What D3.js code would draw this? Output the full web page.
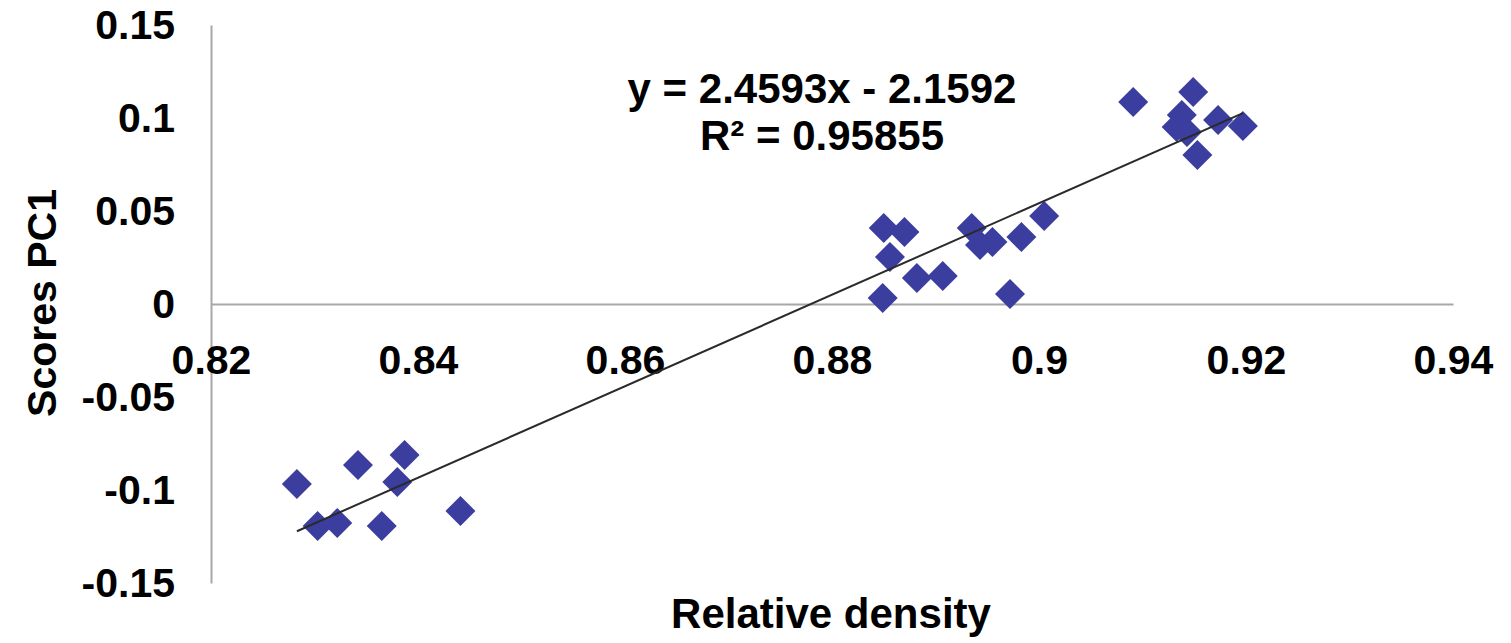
<!DOCTYPE html>
<html>
<head>
<meta charset="utf-8">
<script src="https://cdn.jsdelivr.net/npm/d3@7"></script>
<style>
  body { margin: 0; background: #fff; }
  svg text { font-family: "Liberation Sans", Arial, sans-serif; font-weight: bold; fill: #000; }
</style>
</head>
<body>
<svg width="1511" height="643"></svg>
<script>
// relative density vs scores PC1
var density = [0.8283, 0.8303, 0.8322, 0.8342, 0.8365, 0.8380, 0.8387, 0.8441,
               0.8850, 0.8870, 0.8856, 0.8849, 0.8882, 0.8907, 0.8935, 0.8943,
               0.8955, 0.8983, 0.8972, 0.9005,
               0.9091, 0.9149, 0.9138, 0.9133, 0.9143, 0.9173, 0.9197, 0.9153];
var scores = [-0.0968, -0.1194, -0.1177, -0.0866, -0.1194, -0.0957, -0.0812, -0.1113,
              0.0409, 0.0387, 0.0253, 0.0032, 0.0140, 0.0151, 0.0409, 0.0317,
              0.0333, 0.0360, 0.0054, 0.0473,
              0.1086, 0.1140, 0.1016, 0.0952, 0.0925, 0.0989, 0.0957, 0.0801];

var xTicks = [0.82, 0.84, 0.86, 0.88, 0.9, 0.92, 0.94];
var xTickLabels = ["0.82", "0.84", "0.86", "0.88", "0.9", "0.92", "0.94"];
var yTicks = [0.15, 0.1, 0.05, 0, -0.05, -0.1, -0.15];
var yTickLabels = ["0.15", "0.1", "0.05", "0", "-0.05", "-0.1", "-0.15"];

var slope = 2.4593, intercept = -2.1592; // trendline from the chart label
var eqText = ["y = 2.4593x - 2.1592", "R² = 0.95855"];

var svg = d3.select("svg");

var x = d3.scaleLinear().domain([0.82, 0.94]).range([211, 1453]);
var y = d3.scaleLinear().domain([-0.15, 0.15]).range([583, 25]);

// y axis
var yAxis = svg.append("g").attr("transform", "translate(" + x(0.82) + ",0)")
  .call(d3.axisLeft(y).tickValues(yTicks).tickSize(0).tickSizeOuter(0).tickPadding(36)
    .tickFormat(function(d, i) { return yTickLabels[i]; }));

// x axis sits on y = 0
var xAxis = svg.append("g").attr("transform", "translate(0," + y(0) + ")")
  .call(d3.axisBottom(x).tickValues(xTicks).tickSize(0).tickSizeOuter(0).tickPadding(41)
    .tickFormat(function(d, i) { return xTickLabels[i]; }));

svg.selectAll(".domain").attr("stroke", "#a8a8a8").attr("stroke-width", 2);
svg.selectAll(".tick text").attr("font-size", 41)
  .style("font-family", "'Liberation Sans', Arial, sans-serif").style("font-weight", "bold").attr("fill", "#000");

// points
var diamond = d3.symbol().type(d3.symbolSquare).size(450);
svg.append("g").selectAll("path").data(density).enter().append("path")
  .attr("d", diamond)
  .attr("transform", function(d, i) { return "translate(" + x(d) + "," + y(scores[i]) + ") rotate(45)"; })
  .attr("fill", "#3b3e9e");

// trendline
var x0 = d3.min(density), x1 = d3.max(density);
svg.append("line")
  .attr("x1", x(x0)).attr("y1", y(slope * x0 + intercept))
  .attr("x2", x(x1)).attr("y2", y(slope * x1 + intercept))
  .attr("stroke", "#2a2a2a").attr("stroke-width", 2);

// equation
svg.append("g").selectAll("text").data(eqText).enter().append("text")
  .attr("x", 822).attr("y", function(d, i) { return 103 + i * 47; })
  .attr("text-anchor", "middle").attr("font-size", 42)
  .text(function(d) { return d; });

// axis titles
svg.append("text").attr("x", 831).attr("y", 628).attr("text-anchor", "middle")
  .attr("font-size", 42).text("Relative density");
svg.append("text").attr("transform", "translate(56,303) rotate(-90)").attr("text-anchor", "middle")
  .attr("font-size", 41).text("Scores PC1");
</script>
</body>
</html>
